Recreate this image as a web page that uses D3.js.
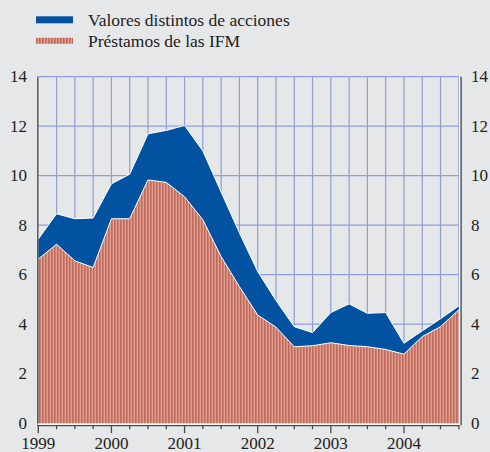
<!DOCTYPE html>
<html>
<head>
<meta charset="utf-8">
<script src="https://cdn.jsdelivr.net/npm/d3@7"></script>
<style>
  html, body { margin: 0; padding: 0; background: #e6e7e9; }
  svg { display: block; font-family: "Liberation Serif", "Times New Roman", Times, "DejaVu Serif", "Noto Serif", serif; }
  text { fill: #222; }
</style>
</head>
<body>
<div id="grafico"></div>
<script>
// Trimestres (1999 T1 - 2004 T4)
var trimestres = [1999, 1999.25, 1999.5, 1999.75,
                  2000, 2000.25, 2000.5, 2000.75,
                  2001, 2001.25, 2001.5, 2001.75,
                  2002, 2002.25, 2002.5, 2002.75,
                  2003, 2003.25, 2003.5, 2003.75,
                  2004, 2004.25, 2004.5, 2004.75];
// Préstamos de las IFM
var prestamos = [6.63, 7.23, 6.56, 6.29,
                 8.26, 8.26, 9.83, 9.73,
                 9.15, 8.22, 6.73, 5.52,
                 4.37, 3.88, 3.09, 3.13,
                 3.25, 3.14, 3.09, 2.98,
                 2.79, 3.50, 3.90, 4.58];
// Valores distintos de acciones (apilados sobre los préstamos)
var valores = [0.81, 1.23, 1.70, 2.00,
               1.41, 1.80, 1.86, 2.10,
               2.88, 2.78, 2.61, 2.17,
               1.76, 1.08, 0.81, 0.53,
               1.22, 1.68, 1.35, 1.49,
               0.44, 0.23, 0.32, 0.16];
var anios = [1999, 2000, 2001, 2002, 2003, 2004];
var ticksY = [0, 2, 4, 6, 8, 10, 12, 14];

var width = 490, height = 452;
var izq = 38.3, der = 458.8, arriba = 76.7, abajo = 423.2;
var fuente = "'Liberation Serif', 'Times New Roman', Times, 'DejaVu Serif', serif";

var svg = d3.select("#grafico").append("svg")
    .attr("width", width)
    .attr("height", height)
    .attr("font-family", fuente);

svg.append("rect")
    .attr("width", width)
    .attr("height", height)
    .attr("fill", "#e6e7e9");

// Patrón rayado para los préstamos
var defs = svg.append("defs");
var patron = defs.append("pattern")
    .attr("id", "rayas")
    .attr("patternUnits", "userSpaceOnUse")
    .attr("width", 3)
    .attr("height", 10);
patron.append("rect").attr("width", 3).attr("height", 10).attr("fill", "#c2695c");
patron.append("rect").attr("x", 1.6).attr("width", 1.4).attr("height", 10).attr("fill", "#dca08f");

var xScale = d3.scaleLinear()
    .domain([1999, 2004.75])
    .range([izq, der]);
var yScale = d3.scaleLinear()
    .domain([0, 14])
    .range([abajo, arriba]);

// Rejilla
var grid = svg.append("g").attr("class", "grid");
grid.selectAll(".gh").data(ticksY.filter(function(d) { return d > 0; }))
  .enter().append("line")
    .attr("x1", izq).attr("x2", der)
    .attr("y1", function(d) { return yScale(d); })
    .attr("y2", function(d) { return yScale(d); })
    .attr("stroke", "#8f9fd6")
    .attr("stroke-width", 1.2);
grid.selectAll(".gv").data(trimestres.slice(1))
  .enter().append("line")
    .attr("x1", function(d) { return xScale(d); })
    .attr("x2", function(d) { return xScale(d); })
    .attr("y1", arriba).attr("y2", abajo)
    .attr("stroke", "#8f9fd6")
    .attr("stroke-width", 1.2);

// Datos apilados
var tabla = trimestres.map(function(t, i) {
  return { t: t, prestamos: prestamos[i], valores: valores[i] };
});
var series = d3.stack().keys(["prestamos", "valores"])(tabla);

var area = d3.area()
    .x(function(d) { return xScale(d.data.t); })
    .y0(function(d) { return yScale(d[0]); })
    .y1(function(d) { return yScale(d[1]); });
var borde = d3.line()
    .x(function(d) { return xScale(d.data.t); })
    .y(function(d) { return yScale(d[1]); });

var colores = { prestamos: "url(#rayas)", valores: "#0152a0" };

svg.selectAll(".area").data(series)
  .enter().append("path")
    .attr("class", "area")
    .attr("d", area)
    .attr("fill", function(d) { return colores[d.key]; });

svg.selectAll(".borde").data(series)
  .enter().append("path")
    .attr("class", "borde")
    .attr("d", borde)
    .attr("fill", "none")
    .attr("stroke", "#ffffff")
    .attr("stroke-width", 1);

// Ejes
var ejes = svg.append("g");
ejes.append("line")
    .attr("x1", izq - 0.5).attr("x2", izq - 0.5)
    .attr("y1", arriba).attr("y2", abajo + 2)
    .attr("stroke", "#5a5a5a").attr("stroke-width", 1.5);
ejes.append("line")
    .attr("x1", der + 0.7).attr("x2", der + 0.7)
    .attr("y1", arriba).attr("y2", abajo + 2)
    .attr("stroke", "#ffffff").attr("stroke-width", 1);
ejes.append("line")
    .attr("x1", der + 2.3).attr("x2", der + 2.3)
    .attr("y1", arriba).attr("y2", abajo + 2)
    .attr("stroke", "#5a5a5a").attr("stroke-width", 1.5);

// Eje X
ejes.append("line")
    .attr("x1", izq - 1).attr("x2", der + 1)
    .attr("y1", abajo + 1).attr("y2", abajo + 1)
    .attr("stroke", "#ffffff").attr("stroke-width", 1);
ejes.append("line")
    .attr("x1", izq - 1).attr("x2", der + 1)
    .attr("y1", abajo + 2.5).attr("y2", abajo + 2.5)
    .attr("stroke", "#4a4a4a").attr("stroke-width", 1.3);
ejes.selectAll(".tick").data(trimestres)
  .enter().append("line")
    .attr("x1", function(d) { return xScale(d); })
    .attr("x2", function(d) { return xScale(d); })
    .attr("y1", abajo + 2.5)
    .attr("y2", function(d) { return anios.indexOf(d) >= 0 ? abajo + 10 : abajo + 6; })
    .attr("stroke", "#4a4a4a").attr("stroke-width", 1.3);

svg.selectAll(".anio").data(anios)
  .enter().append("text")
    .attr("x", function(d) { return xScale(d); })
    .attr("y", 449)
    .attr("text-anchor", "middle")
    .attr("font-family", fuente)
    .style("font-size", "17px")
    .text(function(d) { return d; });

// Etiquetas eje Y (izquierda y derecha)
svg.selectAll(".ey1").data(ticksY)
  .enter().append("text")
    .attr("x", 27)
    .attr("y", function(d) { return yScale(d); })
    .attr("dy", "0.33em")
    .attr("text-anchor", "end")
    .attr("font-family", fuente)
    .style("font-size", "17px")
    .text(function(d) { return d; });
svg.selectAll(".ey2").data(ticksY)
  .enter().append("text")
    .attr("x", 471)
    .attr("y", function(d) { return yScale(d); })
    .attr("dy", "0.33em")
    .attr("text-anchor", "start")
    .attr("font-family", fuente)
    .style("font-size", "17px")
    .text(function(d) { return d; });

// Leyenda
var leyenda = [
  { label: "Valores distintos de acciones", color: "#0152a0" },
  { label: "Préstamos de las IFM", color: "url(#rayas)" }
];
var ley = svg.append("g").attr("class", "legend");
ley.selectAll("rect").data(leyenda)
  .enter().append("rect")
    .attr("x", 36)
    .attr("y", function(d, i) { return 16.3 + i * 21.5; })
    .attr("width", 37)
    .attr("height", function(d, i) { return i === 0 ? 7 : 6; })
    .attr("fill", function(d) { return d.color; });
ley.selectAll("text").data(leyenda)
  .enter().append("text")
    .attr("x", 88)
    .attr("y", function(d, i) { return 25.5 + i * 21.5; })
    .attr("font-family", fuente)
    .style("font-size", "17.5px")
    .text(function(d) { return d.label; });
</script>
</body>
</html>
